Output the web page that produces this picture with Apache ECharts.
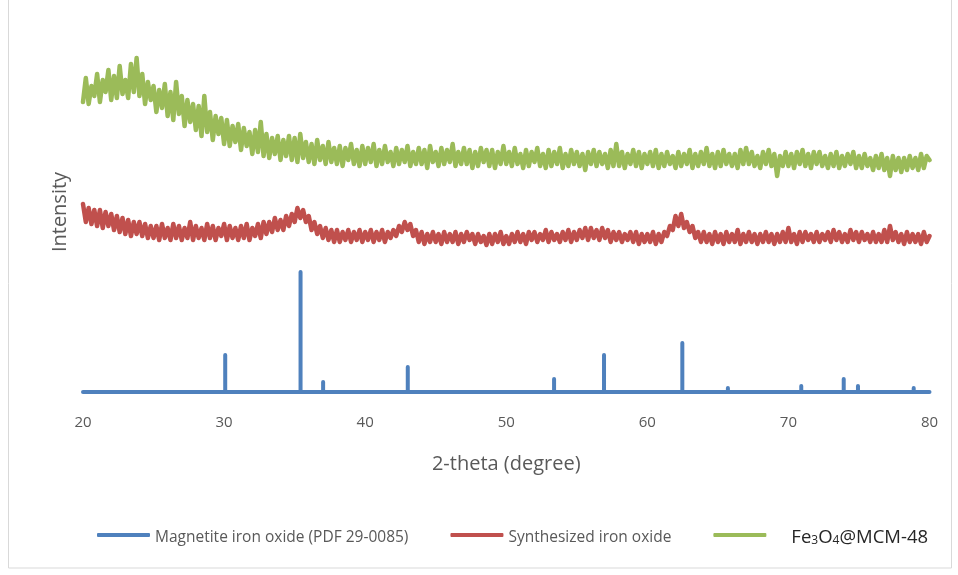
<!DOCTYPE html>
<html>
<head>
<meta charset="utf-8">
<script src="https://cdn.jsdelivr.net/npm/echarts@6/dist/echarts.min.js"></script>
<style>
html,body{margin:0;padding:0;background:#fff;}
#chart{width:958px;height:575px;}
</style>
</head>
<body>
<div id="chart"></div>
<script>
// ---- data ----
const seriesNames = ['Magnetite iron oxide (PDF 29-0085)', 'Synthesized iron oxide', 'Fe3O4@MCM-48'];
const xTicks = [20, 30, 40, 50, 60, 70, 80];

// reference card sticks (2-theta, relative height)
const stickPos = [30.08, 35.42, 37.02, 43.02, 53.39, 56.93, 62.48, 65.71, 70.91, 73.92, 74.93, 78.88];
const stickHeight = [37, 120, 10, 25, 13, 37, 49, 4, 6, 13, 6, 4];

// measured scans sampled every 0.2 degree from 20 to 80
const scanStart = 20, scanStep = 0.2;
const synthesized = [
188,170,184,168,182, 166,182,164,180,166, 178,162,176,160,174, 158,172,156,170,158,
170,156,168,154,166, 154,166,152,168,154, 164,152,168,154,166, 152,164,154,170,152,
166,154,164,152,168, 154,166,152,164,156, 168,152,166,154,164, 152,166,154,168,152,
164,156,168,154,170, 158,170,160,174,162, 172,162,176,166,178, 170,184,174,182,170,
176,162,170,158,166, 154,164,152,162,150, 162,150,160,152,162, 150,160,152,162,150,
160,152,162,150,160, 152,162,150,160,154, 162,156,166,160,170, 162,168,156,162,150,
160,148,158,150,160, 150,158,148,160,150, 158,150,160,148,158, 150,160,152,158,148,
158,150,156,147,158, 148,158,150,160,148, 156,148,158,150,160, 150,158,148,160,152,
160,150,158,152,162, 150,160,152,158,150, 160,152,162,150,160, 152,162,154,164,152,
164,154,162,152,164, 154,162,150,160,152, 160,150,158,152,160, 150,160,148,158,150,
158,150,160,148,158, 150,160,156,166,162, 176,166,178,164,170, 160,166,154,160,150,
160,150,158,148,160, 150,158,148,160,150, 158,150,162,148,158, 150,160,150,158,148,
158,150,160,150,158, 148,158,150,160,150, 164,150,158,148,160, 150,160,152,158,150,
160,150,158,152,160, 150,162,152,160,150, 158,150,162,152,160, 150,160,152,158,150,
160,150,158,150,162, 150,166,152,160,150, 158,148,160,150,158, 150,158,148,160,150,
156
];
const composite = [
290,314,288,306,296, 318,290,312,300,322, 292,316,294,326,298, 312,294,328,300,334,
296,318,288,310,292, 306,280,302,284,308, 276,300,272,310,278, 296,266,292,270,288,
262,286,256,296,260, 280,252,276,258,274, 248,272,246,266,250, 268,242,264,246,260,
238,262,240,270,236, 258,234,254,238,256, 232,252,236,256,232, 254,230,258,234,250,
230,248,228,252,232, 246,228,250,230,244, 228,246,226,244,232, 248,228,242,226,246,
228,244,230,248,226, 242,228,246,230,240, 226,244,228,242,230, 246,226,240,228,244,
228,242,224,246,230, 240,226,244,228,242, 230,248,226,240,228, 244,228,242,224,240,
226,244,230,242,226, 242,224,240,228,246, 228,240,226,244,228, 238,224,242,226,240,
230,244,226,238,224, 242,226,240,228,244, 224,238,226,242,228, 240,226,238,222,240,
228,242,226,240,228, 238,224,242,226,248, 226,240,224,238,228, 242,226,240,224,238,
228,240,226,242,224, 238,226,240,228,236, 224,240,226,238,228, 242,224,238,226,240,
228,244,226,238,224, 240,226,242,228,238, 226,238,224,242,228, 244,228,240,226,236,
224,240,228,242,226, 238,216,236,226,240, 226,238,224,240,228, 242,226,238,224,240,
228,240,226,236,224, 238,226,240,224,236, 226,238,228,240,224, 236,224,238,226,234,
222,236,224,238,222, 234,216,236,222,234, 220,234,222,236,224, 234,222,238,224,236,
232
];

// ---- build series data ----
const toXY = arr => arr.map((v, i) => [+(scanStart + i * scanStep).toFixed(2), v]);
const stickData = [[20, 0]];
stickPos.forEach((p, i) => { stickData.push([p, 0], [p, stickHeight[i]], [p, 0]); });
stickData.push([80, 0]);

const colors = ['#4F81BD', '#C0504D', '#9BBB59'];
const chart = echarts.init(document.getElementById('chart'), null, {renderer: 'canvas'});
chart.setOption({
  animation: false,
  backgroundColor: '#fff',
  color: colors,
  graphic: [{
    type: 'rect', shape: {x: 8.5, y: -1, width: 943, height: 569},
    style: {fill: 'none', stroke: '#d9d9d9', lineWidth: 1}, silent: true, z: -1
  }],
  grid: {left: 83, right: 28.5, top: 32, bottom: 183, containLabel: false},
  xAxis: {
    type: 'value', min: 20, max: 80, interval: 10,
    axisLine: {show: false}, axisTick: {show: false}, splitLine: {show: false},
    axisLabel: {margin: 23, color: '#595959', fontSize: 15, fontFamily: 'Open Sans',
      formatter: v => xTicks.indexOf(v) >= 0 ? String(v) : ''},
    name: '2-theta (degree)', nameLocation: 'middle', nameGap: 62,
    nameTextStyle: {color: '#595959', fontSize: 20, fontFamily: 'Open Sans'}
  },
  yAxis: {
    type: 'value', min: 0, max: 360,
    axisLine: {show: false}, axisTick: {show: false}, splitLine: {show: false},
    axisLabel: {show: false},
    name: 'Intensity', nameLocation: 'middle', nameGap: 13, nameRotate: 90,
    nameTextStyle: {color: '#595959', fontSize: 20, fontFamily: 'Open Sans'}
  },
  legend: {
    top: 523, left: 92, itemWidth: 53, itemHeight: 4, itemGap: 42,
    icon: 'roundRect',
    data: seriesNames,
    formatter: name => name === 'Fe3O4@MCM-48'
      ? '{g|}{b|Fe}{s|3}{b|O}{s|4}{b|@MCM-48}'
      : '{a|' + name + '}',
    textStyle: {
      rich: {
        a: {fontSize: 15.5, color: '#595959', fontFamily: 'Open Sans', verticalAlign: 'bottom', lineHeight: 22},
        g: {width: 20},
        b: {fontSize: 18.5, color: '#262626', fontFamily: 'Open Sans', verticalAlign: 'bottom', lineHeight: 24},
        s: {fontSize: 12, color: '#262626', fontFamily: 'Open Sans', verticalAlign: 'bottom', lineHeight: 12}
      }
    }
  },
  series: [
    {name: seriesNames[0], type: 'line', data: stickData, showSymbol: false, clip: false,
      lineStyle: {width: 4, cap: 'round', join: 'round'}, z: 2},
    {name: seriesNames[1], type: 'line', data: toXY(synthesized), showSymbol: false, clip: false,
      lineStyle: {width: 4.5, cap: 'round', join: 'round'}, z: 3},
    {name: seriesNames[2], type: 'line', data: toXY(composite), showSymbol: false, clip: false,
      lineStyle: {width: 4.5, cap: 'round', join: 'round'}, z: 4}
  ]
});
</script>
</body>
</html>
